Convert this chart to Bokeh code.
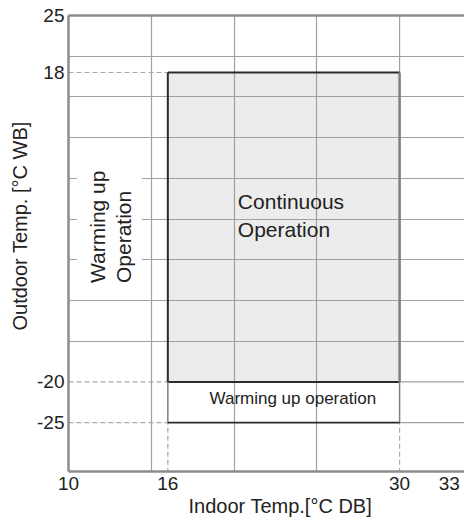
import math

from bokeh.plotting import figure
from bokeh.models import Range1d, FixedTicker, LinearAxis, Label, Title
from bokeh.embed import file_html
from bokeh.resources import INLINE

# Operating range of the unit (indoor dry bulb vs. outdoor wet bulb)
x_ticks = [10, 16, 30, 33]
y_ticks = [-25, -20, 18, 25]
grid_x = [15, 20, 25]
grid_y = [-15, -10, -5, 0, 5, 10, 15, 20]

indoor_lo, indoor_hi = 16, 30
outdoor_hi = 18          # upper limit of both zones
continuous_lo = -20      # lower limit of continuous operation
warmup_lo = -25          # lower limit of warming-up operation

FONT = "Liberation Sans"
TEXT = "#222222"
GRID = "#a0a0a0"
FRAME = "#8c8c8c"
EDGE = "#2b2b2b"
SIDE = "#7f7f7f"
DASH = "#aaaaaa"
FILL = "#ebeceb"

p = figure(width=464, height=521, output_backend="svg", toolbar_location=None,
           x_range=Range1d(10, 33.92), y_range=Range1d(-31, 25),
           min_border_left=68, min_border_right=0, min_border_top=15,
           min_border_bottom=50)
p.outline_line_color = None
p.background_fill_color = "white"

# axes: only the stated limits are labelled, with plain hyphen minus signs
for ax, ticks in ((p.xaxis[0], x_ticks), (p.yaxis[0], y_ticks)):
    ax.ticker = FixedTicker(ticks=ticks)
    ax.major_label_overrides = {t: str(t) for t in ticks}
    ax.major_tick_out = 0
    ax.major_tick_in = 0
    ax.minor_tick_line_color = None
    ax.axis_line_color = FRAME
    ax.axis_line_width = 2.5
    ax.major_label_text_font = FONT
    ax.major_label_text_font_size = "19px"
    ax.major_label_text_color = TEXT
p.xaxis.major_label_standoff = 5
p.yaxis.major_label_standoff = 4

top = LinearAxis(ticker=FixedTicker(ticks=[]), major_tick_line_color=None,
                 minor_tick_line_color=None, major_label_text_font_size="0px",
                 axis_line_color=FRAME, axis_line_width=2.5, major_label_standoff=0)
p.add_layout(top, "above")

# axis titles
p.add_layout(Title(text="Outdoor Temp. [°C WB]", align="left", offset=141,
                   text_font=FONT, text_font_size="20px", text_font_style="normal",
                   text_color=TEXT, standoff=8), "left")
p.add_layout(Title(text="Indoor Temp.[°C DB]", align="left", offset=120,
                   text_font=FONT, text_font_size="20px", text_font_style="normal",
                   text_color=TEXT, standoff=0), "below")

# light grid every 5 degrees
p.xgrid.ticker = FixedTicker(ticks=grid_x)
p.ygrid.ticker = FixedTicker(ticks=grid_y)
for g in (p.xgrid[0], p.ygrid[0]):
    g.grid_line_color = GRID
    g.grid_line_width = 1.2

# continuous-operation area, painted beneath the grid
fill = p.quad(left=[indoor_lo], right=[indoor_hi], bottom=[continuous_lo],
              top=[outdoor_hi], fill_color=FILL, line_color=None)
fill.level = "image"

# grid pieces that only run to the right of the area
p.segment(x0=[indoor_hi, indoor_hi], x1=[40, 40], y0=[continuous_lo, warmup_lo],
          y1=[continuous_lo, warmup_lo], line_color=GRID, line_width=1.2)
p.segment(x0=[indoor_hi], x1=[indoor_hi], y0=[outdoor_hi], y1=[30],
          line_color=GRID, line_width=1.2)

# dashed leader lines from the axes to the limits
p.segment(x0=[10, 10, 10], x1=[indoor_lo] * 3,
          y0=[outdoor_hi, continuous_lo, warmup_lo],
          y1=[outdoor_hi, continuous_lo, warmup_lo],
          line_color=DASH, line_width=1.2, line_dash="5 3")
p.segment(x0=[indoor_lo, indoor_hi], x1=[indoor_lo, indoor_hi],
          y0=[-40, -40], y1=[warmup_lo, warmup_lo],
          line_color=DASH, line_width=1.2, line_dash="5 3")

# outlines of the two zones
p.segment(x0=[indoor_lo, indoor_lo, indoor_lo], x1=[indoor_hi, indoor_lo, indoor_hi],
          y0=[outdoor_hi, continuous_lo, continuous_lo],
          y1=[outdoor_hi, outdoor_hi, continuous_lo],
          line_color=EDGE, line_width=2)
p.segment(x0=[indoor_hi], x1=[indoor_hi], y0=[continuous_lo], y1=[outdoor_hi],
          line_color=SIDE, line_width=2.5)
p.segment(x0=[indoor_lo, indoor_hi], x1=[indoor_lo, indoor_hi],
          y0=[warmup_lo, warmup_lo], y1=[continuous_lo, continuous_lo],
          line_color=SIDE, line_width=1.5)
p.segment(x0=[indoor_lo], x1=[indoor_hi], y0=[warmup_lo], y1=[warmup_lo],
          line_color=EDGE, line_width=1.6)

# white backing behind the vertical caption
p.quad(left=[10.51], right=[14.43], bottom=[-8.83], top=[7.14],
       fill_color="white", line_color=None)

# zone captions
p.add_layout(Label(x=20.23, y=0.79, text="Continuous", text_font=FONT,
                   text_font_size="21px", text_color=TEXT))
p.add_layout(Label(x=20.23, y=-2.69, text="Operation", text_font=FONT,
                   text_font_size="21px", text_color=TEXT))
p.add_layout(Label(x=23.55, y=-23.2, text="Warming up operation", text_font=FONT,
                   text_font_size="17px", text_color=TEXT, text_align="center"))
p.add_layout(Label(x=11.78, y=-7.85, text="Warming up", text_font=FONT,
                   text_font_size="21px", text_color=TEXT, angle=math.pi / 2,
                   text_align="left", text_baseline="middle"))
p.add_layout(Label(x=13.35, y=-7.85, text="Operation", text_font=FONT,
                   text_font_size="21px", text_color=TEXT, angle=math.pi / 2,
                   text_align="left", text_baseline="middle"))

open("out.html", "w").write(file_html(p, INLINE))
